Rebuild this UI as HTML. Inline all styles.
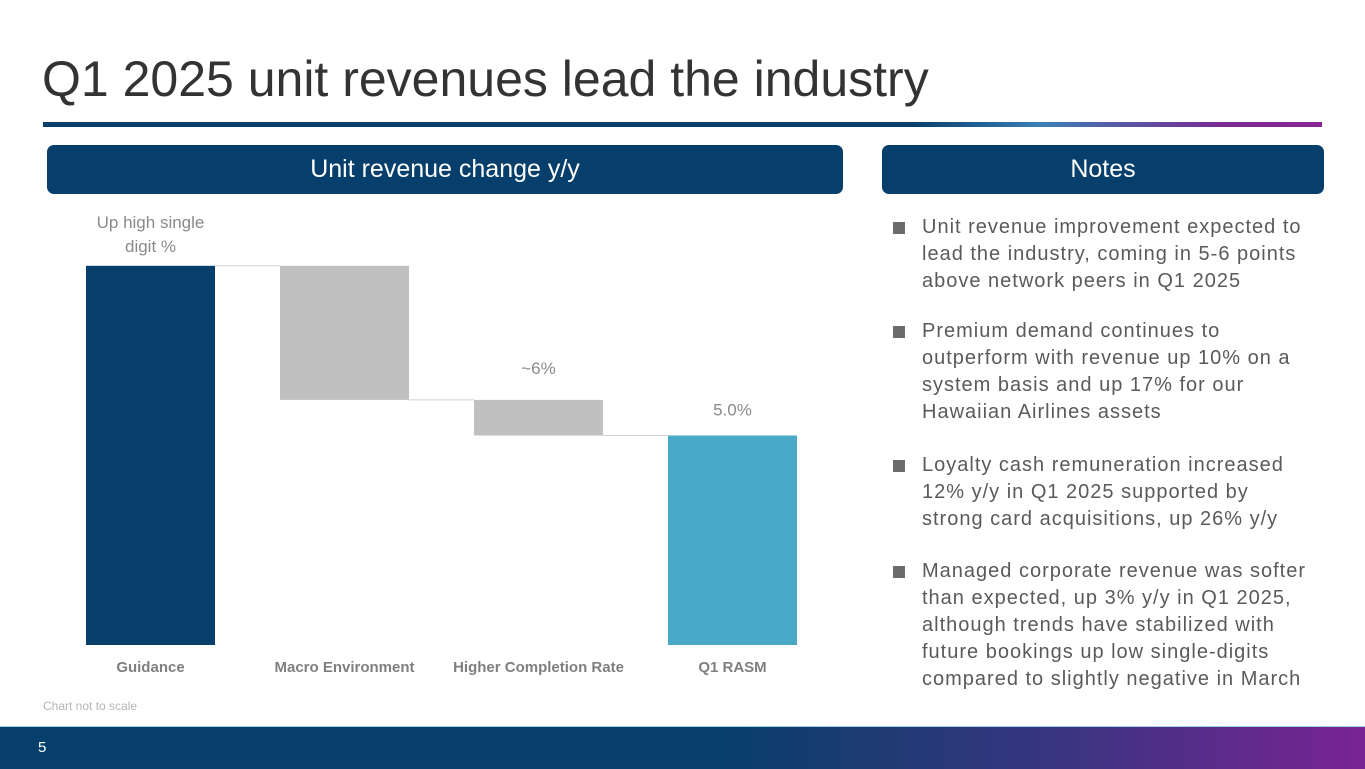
<!DOCTYPE html>
<html><head><meta charset="utf-8"><style>
body{margin:0;width:1365px;height:768px;position:relative;background:#fff;font-family:"Liberation Sans",sans-serif;overflow:hidden}
.abs{position:absolute}
.hdr{position:absolute;top:145px;height:49px;background:#063f6b;border-radius:7px;color:#fff;font-size:25px;display:flex;align-items:center;justify-content:center}
.note{position:absolute;left:922px;font-size:20px;letter-spacing:1px;line-height:27px;color:#5a5a5a;white-space:nowrap}
.sq{position:absolute;left:893px;width:12px;height:12px;background:#6b6b6b}
</style></head><body>
<div class="abs" style="left:42px;top:50px;font-size:50px;color:#333">Q1 2025 unit revenues lead the industry</div>
<div class="abs" style="left:43px;top:122px;width:1279px;height:5px;background:linear-gradient(90deg,#063f6b 0%,#063f6b 68%,#3b7fb8 78%,#7a2a95 92%,#8a2596 100%)"></div>
<div class="hdr" style="left:47px;width:796px">Unit revenue change y/y</div>
<div class="hdr" style="left:882px;width:442px">Notes</div>
<svg class="abs" style="left:0;top:0" width="860" height="720" id="chart"></svg>
<div class="abs" style="left:43px;top:699px;font-size:12px;color:#b5b5b5">Chart not to scale</div>
<div class="sq" style="top:222px"></div>
<div class="note" style="top:214px">Unit revenue improvement expected to<br>lead the industry, coming in 5-6 points<br>above network peers in Q1 2025</div>
<div class="sq" style="top:326px"></div>
<div class="note" style="top:318px">Premium demand continues to<br>outperform with revenue up 10% on a<br>system basis and up 17% for our<br>Hawaiian Airlines assets</div>
<div class="sq" style="top:460px"></div>
<div class="note" style="top:452px">Loyalty cash remuneration increased<br>12% y/y in Q1 2025 supported by<br>strong card acquisitions, up 26% y/y</div>
<div class="sq" style="top:566px"></div>
<div class="note" style="top:558px">Managed corporate revenue was softer<br>than expected, up 3% y/y in Q1 2025,<br>although trends have stabilized with<br>future bookings up low single-digits<br>compared to slightly negative in March</div>
<div class="abs" style="left:0;top:726px;width:1365px;height:42px;background:linear-gradient(90deg,#063f6b 0%,#063f6b 52%,#3a3580 78%,#7a2395 100%);border-top:1px solid #9fd0e0"></div>
<div class="abs" style="left:38px;top:739px;font-size:15px;color:#fff">5</div>
<script>
const categories=["Guidance","Macro Environment","Higher Completion Rate","Q1 RASM"];
const startValue=9.05;
const deltas=[-3.2,-0.85];
const endValue=5.0;
const valueLabels=["Up high single|digit %","","~6%","5.0%"];
const svg=document.getElementById('chart');const NS="http://www.w3.org/2000/svg";
const base=645,scale=41.9,x0=86,step=194,bw=129;
const y=v=>base-v*scale;const xb=i=>x0+i*step;
function mk(t,a){const e=document.createElementNS(NS,t);for(const k in a)e.setAttribute(k,a[k]);svg.appendChild(e);return e;}
const bars=[];let run=startValue;
bars.push([0,startValue,'#063f6b']);
deltas.forEach(d=>{bars.push([run+d,run,'#c0c0c0']);run+=d;});
bars.push([0,endValue,'#48aac6']);
const lv=[startValue];run=startValue;deltas.forEach(d=>{run+=d;lv.push(run);});
bars.forEach((b,i)=>{
 if(i<bars.length-1){const l=mk('line',{x1:xb(i)+bw,x2:xb(i+1),y1:y(lv[i]),y2:y(lv[i]),stroke:'#d0d0d0','stroke-width':1});
 }
 const r=mk('rect',{x:xb(i),y:y(b[1]),width:bw,height:y(b[0])-y(b[1]),fill:b[2]});
 
 
 const t=mk('text',{x:xb(i)+bw/2,y:672,'text-anchor':'middle','font-size':15,'font-weight':'bold',fill:'#7f7f7f','font-family':'Liberation Sans'});t.textContent=categories[i];
 
 if(valueLabels[i]){const lines=valueLabels[i].split('|');const top=y(b[1]);
  const off=i==0?14:(i==bars.length-1?20:26);
  lines.forEach((s,j)=>{const v=mk('text',{x:xb(i)+bw/2,y:top-off-(lines.length-1-j)*24,'text-anchor':'middle','font-size':17,fill:'#8a8a8a','font-family':'Liberation Sans'});v.textContent=s;
  });}
});
</script>
</body></html>
